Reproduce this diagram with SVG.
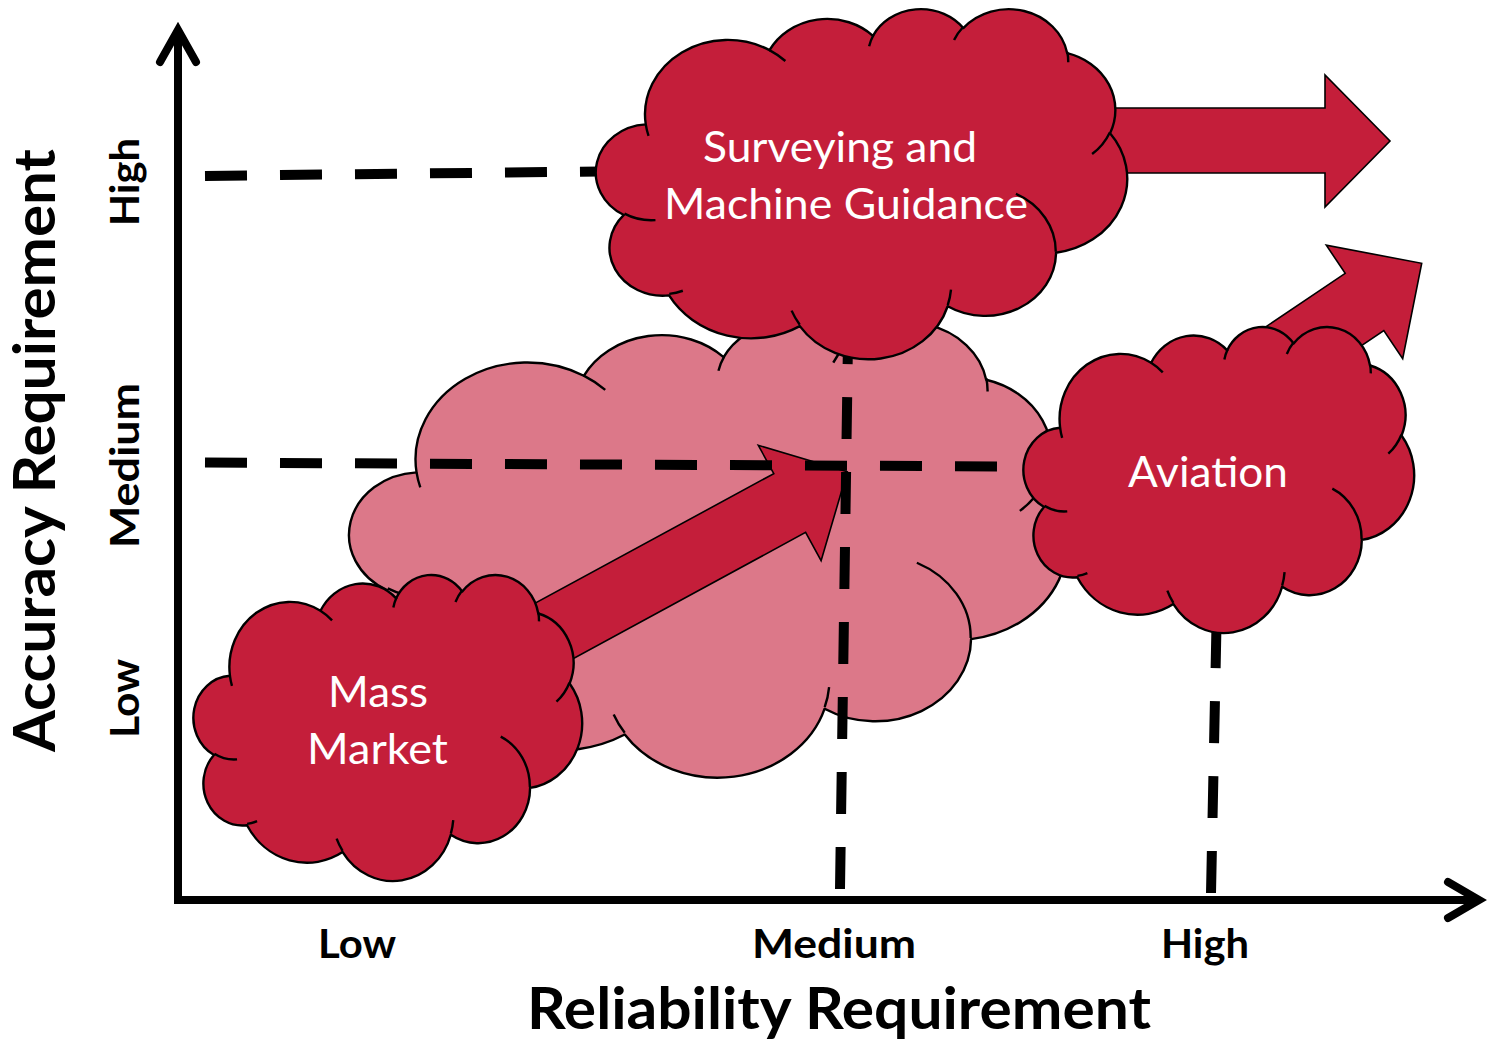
<svg xmlns="http://www.w3.org/2000/svg" width="1488" height="1044" viewBox="0 0 1488 1044">
<style>
.co{stroke:#000;stroke-width:2.4;stroke-linejoin:round;vector-effect:non-scaling-stroke}
.ci{fill:none;stroke:#000;stroke-width:2.4;stroke-linecap:butt;vector-effect:non-scaling-stroke}
.red{fill:#C41E3A}
.pink{fill:#DC7889}
.blk{fill:#C41E3A;stroke:#000;stroke-width:1.6;stroke-linejoin:miter}
.dash{stroke:#000;stroke-width:10;stroke-dasharray:42 33;fill:none}
.axis{stroke:#000;stroke-width:8;fill:none}
.head{stroke:#000;stroke-width:8;fill:none;stroke-linecap:round;stroke-linejoin:miter;stroke-miterlimit:10}
.in{font-family:Lato,"Open Sans","Liberation Sans",sans-serif;font-size:43px;fill:#fff}
.tick{font-family:Lato,"Open Sans","Liberation Sans",sans-serif;font-size:41px;font-weight:bold;fill:#000}
.title{font-family:Lato,"Open Sans","Liberation Sans",sans-serif;font-size:57px;font-weight:bold;fill:#000}
</style>
<defs>
<g id="cloud">
<path class="co" d="M3900 14370 A6753 9190 0 0 1 14005 5201 A5333 7267 0 0 1 22455 3432 A4365 5945 0 0 1 29833 2480 A4857 6595 0 0 1 38318 5575 A5333 7273 0 0 1 41819 15459 A6775 9220 0 0 1 37404 30202 A5785 7867 0 0 1 28556 36812 A6752 9215 0 0 1 16480 39263 A7720 10543 0 0 1 5804 35468 A4360 5918 0 0 1 2113 25546 A4345 5945 0 0 1 3900 14370 Z"/>
<path class="ci" d="M4693 26177 A4345 5945 0 0 1 2160 25380 M6928 34899 A4360 5918 0 0 1 5820 35280 M16478 39090 A6752 9215 0 0 1 15810 37350 M28827 34751 A6752 9215 0 0 1 28560 36660 M34129 22954 A5785 7867 0 0 1 37381 30090 M41798 15354 A5333 7273 0 0 1 40350 18030 M38324 5426 A4857 6595 0 0 1 38400 6690 M29078 3952 A4857 6595 0 0 1 29819 2341 M22141 4720 A4365 5945 0 0 1 22500 3330 M14000 5192 A6753 9190 0 0 1 15300 6540 M4127 15789 A6753 9190 0 0 1 3900 14370"/>
</g>
</defs>

<g id="axes">
<line class="axis" x1="178" y1="904" x2="178" y2="32"/>
<polyline class="head" points="160,62 178,30 196,62"/>
<line class="axis" x1="174" y1="900" x2="1479" y2="900"/>
<polyline class="head" points="1448,882 1479,900 1448,918"/>
</g>

<g id="medium-range">
<use href="#cloud" class="pink" transform="translate(352 321) scale(0.0165509 0.0105324)"/>
</g>

<g id="connectors">
<path id="arrow-mass" class="blk" d="M483.8 631.1 L773.8 473.6 L758.3 445.3 L847.3 471.7 L821.1 560.7 L805.6 532.4 L515.6 689.9 Z"/>
<path id="arrow-survey" class="blk" d="M1050 108 L1325 108 L1325 75 L1390 141 L1325 207 L1325 173 L1050 173 Z"/>
<path id="arrow-aviation" class="blk" d="M1179.4 385.1 L1345.2 273.3 L1326.3 245.2 L1421.7 263.3 L1402.7 358.6 L1383.8 330.5 L1218 442.3 Z"/>
</g>

<g id="guides">
<line class="dash" x1="205" y1="175.9" x2="640" y2="171"/>
<line class="dash" x1="205" y1="462.6" x2="1000" y2="466.4"/>
<line class="dash" x1="840" y1="889" x2="848" y2="340"/>
<line class="dash" x1="1211" y1="893" x2="1217" y2="600"/>
</g>

<g id="mass-market">
<use href="#cloud" class="red" transform="translate(195 574) scale(0.0089583 0.0070833)"/>
<text class="in" x="328" y="707" textLength="100" lengthAdjust="spacingAndGlyphs">Mass</text>
<text class="in" x="307" y="764" textLength="141" lengthAdjust="spacingAndGlyphs">Market</text>
</g>

<g id="surveying">
<use href="#cloud" class="red" transform="translate(598 8) scale(0.0122454 0.0081019)"/>
<text class="in" x="703" y="162" textLength="274" lengthAdjust="spacingAndGlyphs">Surveying and</text>
<text class="in" x="664" y="219" textLength="364" lengthAdjust="spacingAndGlyphs">Machine Guidance</text>
</g>

<g id="aviation">
<use href="#cloud" class="red" transform="translate(1025 326) scale(0.0090046 0.0070833)"/>
<text class="in" x="1128" y="487" textLength="160" lengthAdjust="spacingAndGlyphs">Aviation</text>
</g>

<g id="labels">
<text class="title" x="527" y="1029" textLength="624" lengthAdjust="spacingAndGlyphs">Reliability Requirement</text>
<text class="title" transform="translate(55 752) rotate(-90)" x="0" y="0" textLength="603" lengthAdjust="spacingAndGlyphs">Accuracy Requirement</text>
<text class="tick" x="318" y="958" textLength="78" lengthAdjust="spacingAndGlyphs">Low</text>
<text class="tick" x="752" y="958" textLength="164" lengthAdjust="spacingAndGlyphs">Medium</text>
<text class="tick" x="1161" y="958" textLength="88" lengthAdjust="spacingAndGlyphs">High</text>
<text class="tick" transform="translate(139 226) rotate(-90)" x="0" y="0" textLength="88" lengthAdjust="spacingAndGlyphs">High</text>
<text class="tick" transform="translate(139 548) rotate(-90)" x="0" y="0" textLength="165" lengthAdjust="spacingAndGlyphs">Medium</text>
<text class="tick" transform="translate(139 738) rotate(-90)" x="0" y="0" textLength="79" lengthAdjust="spacingAndGlyphs">Low</text>
</g>
</svg>
